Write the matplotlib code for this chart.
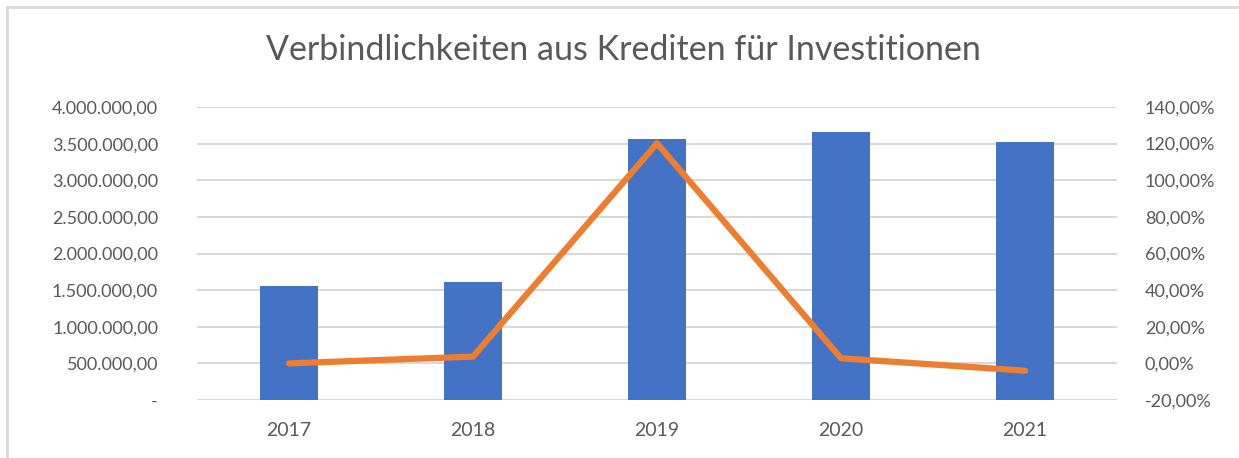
import matplotlib
matplotlib.use('Agg')
import matplotlib.pyplot as plt
from matplotlib.ticker import FuncFormatter
from matplotlib.lines import Line2D

# Data
years = ['2017', '2018', '2019', '2020', '2021']
verbindlichkeiten = [1556000, 1615000, 3560000, 3665000, 3522000]
veraenderung = [0.0, 3.7, 120.2, 2.8, -4.0]  # percent

plt.rcParams['font.family'] = ['Lato', 'DejaVu Sans']

text_color = '#595959'
grid_color = '#d9d9d9'
bar_color = '#4472c4'
line_color = '#ed7d31'


def de_number(v, pos=None):
    if v == 0:
        return '-'
    s = f'{v:,.2f}'
    return s.replace(',', 'X').replace('.', ',').replace('X', '.')


def de_percent(v, pos=None):
    return f'{v:.2f}%'.replace('.', ',')


fig = plt.figure(figsize=(12.39, 4.58), dpi=100)
ax = fig.add_axes([197 / 1239, 58 / 458, 920 / 1239, 293 / 458])

x = range(len(years))
ax.bar(x, verbindlichkeiten, width=0.31, color=bar_color, zorder=2)
ax.set_ylim(0, 4000000)
ax.set_yticks(range(0, 4000001, 500000))
ax.yaxis.set_major_formatter(FuncFormatter(de_number))
ax.set_xlim(-0.5, len(years) - 0.5)
ax.set_xticks(list(x))
ax.set_xticklabels(years)
ax.grid(axis='y', color=grid_color, linewidth=1.5, zorder=0)
ax.set_axisbelow(True)

# Secondary axis for the percentage change
ax2 = ax.twinx()
ax2.plot(x, veraenderung, color=line_color, linewidth=4.5, solid_capstyle='round', zorder=3)
ax2.set_ylim(-20, 140)
ax2.set_yticks(range(-20, 141, 20))
ax2.yaxis.set_major_formatter(FuncFormatter(de_percent))

for a in (ax, ax2):
    for side in a.spines:
        a.spines[side].set_visible(False)
    a.tick_params(length=0, labelsize=13, colors=text_color)
ax.tick_params(axis='y', pad=28)
ax.tick_params(axis='x', pad=16, labelsize=14)
ax2.tick_params(axis='y', pad=20)

fig.text(623 / 1239, 1 - 50 / 458, 'Verbindlichkeiten aus Krediten für Investitionen',
         ha='center', va='center', fontsize=24.5, color=text_color)

# Light chart frame (only top and left visible in the crop)
fig.add_artist(Line2D([7 / 1239, 1], [1 - 7 / 458, 1 - 7 / 458], color=grid_color, linewidth=2,
                      transform=fig.transFigure))
fig.add_artist(Line2D([7 / 1239, 7 / 1239], [0, 1 - 7 / 458], color=grid_color, linewidth=2,
                      transform=fig.transFigure))

fig.savefig('out.png', dpi=100)
